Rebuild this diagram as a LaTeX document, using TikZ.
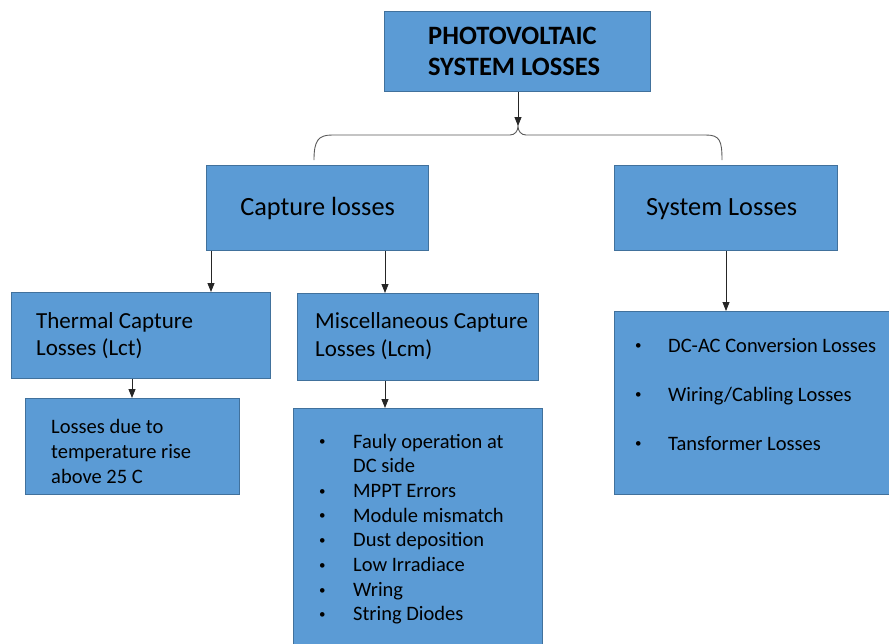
\documentclass[tikz,border=0pt]{standalone}
\usepackage{fontspec}
\setmainfont{Carlito}
\usetikzlibrary{arrows.meta}
\definecolor{boxfill}{HTML}{5B9BD5}
\definecolor{boxline}{HTML}{41719C}
\newcommand{\smbul}{\raisebox{2.2pt}{\fontsize{13}{13}\selectfont\textbullet}}
\tikzset{
  box/.style={draw=boxline, fill=boxfill, line width=1.2pt, anchor=north west, inner sep=0pt},
  arr/.style={draw=black!85, line width=0.8pt, -{Triangle[width=7pt,length=9pt]}},
  brace/.style={draw=black!65, line width=0.9pt},
  lst/.style={anchor=base west, inner sep=0pt}
}
\begin{document}
\begin{tikzpicture}[x=1pt,y=-1pt]
\useasboundingbox (0,0) rectangle (889,643);
% boxes
\node[box, minimum width=266pt, minimum height=80pt] (top) at (384,11) {};
\node[box, minimum width=222pt, minimum height=85pt, font=\fontsize{26.3}{30}\selectfont] (cap) at (206,165) {Capture losses};
\node[box, minimum width=223pt, minimum height=85pt] (sys) at (614,165) {};
\node[box, minimum width=259pt, minimum height=86pt] (th) at (11,292) {};
\node[box, minimum width=241pt, minimum height=87pt] (mi) at (297,293) {};
\node[box, minimum width=214pt, minimum height=96pt] (ld) at (25,398) {};
\node[box, minimum width=249pt, minimum height=240pt] (ml) at (293,408) {};
\node[box, minimum width=280pt, minimum height=183pt] (sl) at (614,311) {};
% texts
\node[lst, font=\fontsize{26.5}{31}\selectfont\bfseries] (topt) at (428,44) {\begin{tabular}[t]{@{}l@{}}PHOTOVOLTAIC\\SYSTEM LOSSES\end{tabular}};
\node[lst, font=\fontsize{26.3}{30}\selectfont] (syst) at (646,215) {System Losses};
\node[lst, font=\fontsize{23}{27}\selectfont] (tht) at (36,328) {\begin{tabular}[t]{@{}l@{}}Thermal Capture\\Losses (Lct)\end{tabular}};
\node[lst, font=\fontsize{23}{28}\selectfont] (mit) at (315,328) {\begin{tabular}[t]{@{}l@{}}Miscellaneous Capture\\Losses (Lcm)\end{tabular}};
\node[lst, font=\fontsize{20.5}{25}\selectfont] (ldt) at (51,433) {\begin{tabular}[t]{@{}l@{}}Losses due to\\temperature rise\\above 25 C\end{tabular}};
\node[lst, font=\fontsize{20.5}{24.7}\selectfont] (mlt) at (319,448) {\begin{tabular}[t]{@{}p{34pt}@{}l@{}}
\smbul & Fauly operation at\\
 & DC side\\
\smbul & MPPT Errors\\
\smbul & Module mismatch\\
\smbul & Dust deposition\\
\smbul & Low Irradiace\\
\smbul & Wring\\
\smbul & String Diodes
\end{tabular}};
\node[lst, font=\fontsize{20.5}{49}\selectfont] (slt) at (635,352) {\begin{tabular}[t]{@{}p{33pt}@{}l@{}}
\smbul & DC-AC Conversion Losses\\
\smbul & Wiring/Cabling Losses\\
\smbul & Tansformer Losses
\end{tabular}};
% brace
\coordinate (bl) at (314,160);
\coordinate (br) at (722,160);
\coordinate (bt) at (518,126);
\draw[brace] (bl) .. controls (314,141) and (318,135) .. (332,135) -- (510,135) .. controls (515,135) and (518,131) .. (bt) .. controls (518,131) and (521,135) .. (526,135) -- (706,135) .. controls (720,135) and (722,141) .. (br);
\draw[arr] (top.south -| bt) -- (bt);
% arrows
\draw[arr] (cap.south -| 211,0) -- (th.north -| 211,0);
\draw[arr] (cap.south -| 385,0) -- (mi.north -| 385,0);
\draw[arr] (th.south -| 132,0) -- (ld.north -| 132,0);
\draw[arr] (mi.south -| 385,0) -- (ml.north -| 385,0);
\draw[arr] (sys.south -| 726,0) -- (sl.north -| 726,0);
\end{tikzpicture}
\end{document}
